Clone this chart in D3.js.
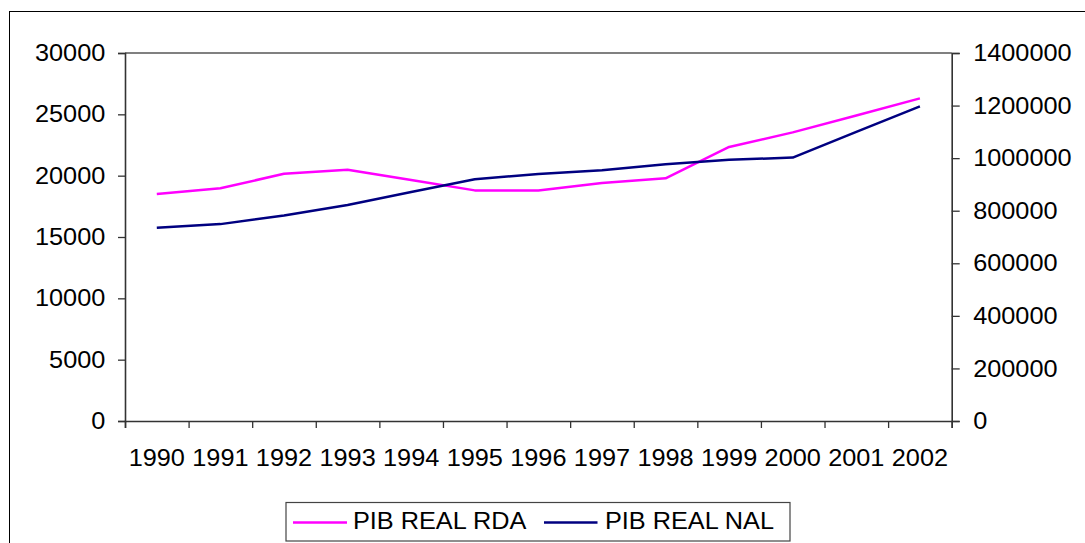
<!DOCTYPE html>
<html>
<head>
<meta charset="utf-8">
<script src="https://cdn.jsdelivr.net/npm/d3@7"></script>
<style>
  html, body { margin: 0; padding: 0; background: #fff; }
  svg { display: block; font-family: "Liberation Sans", Arial, sans-serif; }
</style>
</head>
<body>
<svg id="chart" width="1085" height="543"></svg>
<script>
const years = ["1990","1991","1992","1993","1994","1995","1996","1997","1998","1999","2000","2001","2002"];
const pibRealRDA = [18500, 18970, 20150, 20480, 19650, 18800, 18800, 19400, 19780, 22340, 23530, 24900, 26300];
const pibRealNAL = [735000, 749000, 782000, 822000, 871000, 920000, 940000, 954000, 977000, 994000, 1002000, 1100000, 1197000];
const leftTicks = [0, 5000, 10000, 15000, 20000, 25000, 30000];
const rightTicks = [0, 200000, 400000, 600000, 800000, 1000000, 1200000, 1400000];
const seriesNames = ["PIB REAL RDA", "PIB REAL NAL"];
const seriesColors = ["#FF00FF", "#000080"];

const FS = 23, SX = 1.1;
const svg = d3.select("#chart");

// outer chart border
svg.append("rect").attr("x", 9.5).attr("y", 11.5).attr("width", 1100).attr("height", 560)
  .attr("fill", "none").attr("stroke", "#000").attr("stroke-width", 1);

const L = 125, R = 951.7, T = 53, B = 421;
const x = d3.scaleBand().domain(years).range([L, R]).padding(0);
const xEdge = d3.scaleLinear().domain([0, years.length]).range([L, R]);
const yL = d3.scaleLinear().domain([0, 30000]).range([B, T]);
const yR = d3.scaleLinear().domain([0, 1400000]).range([B, T]);

// plot area border (top)
svg.append("line").attr("x1", L).attr("x2", R).attr("y1", T).attr("y2", T)
  .attr("stroke", "#808080").attr("stroke-width", 2);

function styleText(sel) {
  sel.attr("font-size", FS).attr("fill", "#000")
     .attr("font-family", '"Liberation Sans", Arial, sans-serif')
     .attr("transform", `scale(${SX},1)`);
}

// left axis
const gl = svg.append("g").attr("transform", `translate(${L},0)`)
  .call(d3.axisLeft(yL).tickValues(leftTicks).tickSize(7).tickPadding(0).tickFormat(d3.format("d")));
gl.selectAll("text").attr("x", -19.7 / SX).attr("dy", "0.33em");
styleText(gl.selectAll("text"));

// right axis
const gr = svg.append("g").attr("transform", `translate(${R},0)`)
  .call(d3.axisRight(yR).tickValues(rightTicks).tickSize(8).tickPadding(0).tickFormat(d3.format("d")));
gr.selectAll("text").attr("x", 21.5 / SX).attr("dy", "0.33em");
styleText(gr.selectAll("text"));

// bottom axis: tick marks at category edges
const gbTicks = svg.append("g").attr("transform", `translate(0,${B})`)
  .call(d3.axisBottom(xEdge).tickValues(d3.range(years.length + 1)).tickSize(7).tickFormat(""));
// bottom axis labels at category centers
const gb = svg.append("g").attr("transform", `translate(0,${B})`)
  .call(d3.axisBottom(x).tickSize(0).tickPadding(0));
gb.select(".domain").remove();
gb.selectAll("text").attr("y", 45).attr("dy", "0");
styleText(gb.selectAll("text"));
gb.selectAll(".tick").each(function() {
  const t = d3.select(this);
  const xv = +t.attr("transform").match(/translate\(([-\d.]+)/)[1];
  t.attr("transform", `translate(${xv},0)`);
});

[gl, gr, gbTicks].forEach(g => {
  g.selectAll(".domain").attr("stroke", "#333").attr("stroke-width", 1.6);
  g.selectAll(".tick line").attr("stroke", "#333").attr("stroke-width", 1.3);
});

// lines
const lineL = d3.line().x((d, i) => x(years[i]) + x.bandwidth() / 2).y(d => yL(d));
const lineR = d3.line().x((d, i) => x(years[i]) + x.bandwidth() / 2).y(d => yR(d));
svg.append("path").datum(pibRealRDA).attr("d", lineL)
  .attr("fill", "none").attr("stroke", seriesColors[0]).attr("stroke-width", 2.5).attr("stroke-linejoin", "round");
svg.append("path").datum(pibRealNAL).attr("d", lineR)
  .attr("fill", "none").attr("stroke", seriesColors[1]).attr("stroke-width", 2.5).attr("stroke-linejoin", "round");

// legend
const lg = svg.append("g");
lg.append("rect").attr("x", 286).attr("y", 502.5).attr("width", 504).attr("height", 38.5)
  .attr("fill", "#fff").attr("stroke", "#444").attr("stroke-width", 1.2);
const legendItems = [
  { x1: 293, x2: 347, tx: 353 },
  { x1: 544, x2: 597.5, tx: 605 }
];
legendItems.forEach((it, i) => {
  lg.append("line").attr("x1", it.x1).attr("x2", it.x2).attr("y1", 522.5).attr("y2", 522.5)
    .attr("stroke", seriesColors[i]).attr("stroke-width", 2.4);
  const t = lg.append("text").attr("x", it.tx / SX).attr("y", 529.5).text(seriesNames[i]);
  styleText(t);
});
</script>
</body>
</html>
